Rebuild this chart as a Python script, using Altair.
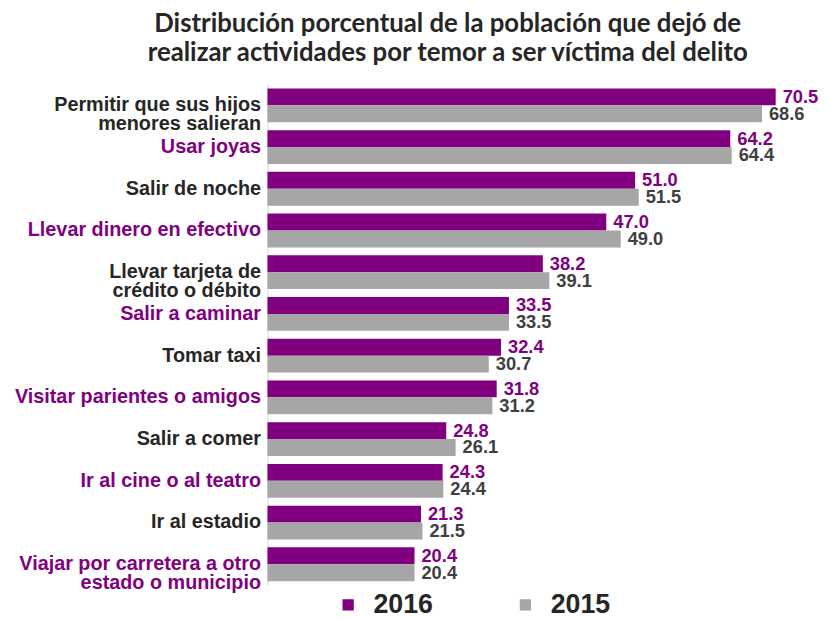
import json
import altair as alt
import pandas as pd

categories = [
    "Permitir que sus hijos|menores salieran",
    "Usar joyas",
    "Salir de noche",
    "Llevar dinero en efectivo",
    "Llevar tarjeta de|crédito o débito",
    "Salir a caminar",
    "Tomar taxi",
    "Visitar parientes o amigos",
    "Salir a comer",
    "Ir al cine o al teatro",
    "Ir al estadio",
    "Viajar por carretera a otro|estado o municipio",
]
values_2016 = [70.5, 64.2, 51.0, 47.0, 38.2, 33.5, 32.4, 31.8, 24.8, 24.3, 21.3, 20.4]
values_2015 = [68.6, 64.4, 51.5, 49.0, 39.1, 33.5, 30.7, 31.2, 26.1, 24.4, 21.5, 20.4]
years = ["2016", "2015"]
title_lines = [
    "Distribución porcentual de la población que dejó de",
    "realizar actividades por temor a ser víctima del delito",
]

rows = []
for c, a, b in zip(categories, values_2016, values_2015):
    rows.append({"cat": c, "year": "2016", "value": a})
    rows.append({"cat": c, "year": "2015", "value": b})
df = pd.DataFrame(rows)

purple_cats = categories[1::2]
purple_test = "indexof(" + json.dumps(purple_cats, ensure_ascii=False) + ", datum.value) >= 0"

PURPLE = "#800080"
GRAY = "#A6A6A6"
DARK = "#262626"
FONT = "Liberation Sans, Arial, sans-serif"

y_enc = alt.Y(
    "cat:N",
    sort=categories,
    scale=alt.Scale(paddingInner=0.19, paddingOuter=0.1),
    axis=alt.Axis(
        title=None,
        labelExpr="split(datum.label, '|')",
        labelFont=FONT,
        labelFontWeight="bold",
        labelFontSize=20,
        labelLineHeight=19,
        labelColor={"condition": {"test": purple_test, "value": PURPLE}, "value": DARK},
        ticks=False,
        domainColor="#d9d9d9",
        domainWidth=1,
        labelPadding=7,
        labelLimit=0,
        grid=False,
    ),
)
yoff = alt.YOffset("year:N", sort=years, scale=alt.Scale(paddingInner=0, paddingOuter=0))
x_enc = alt.X("value:Q", scale=alt.Scale(domain=[0, 75], nice=False), axis=None)

bars = alt.Chart(df).mark_bar().encode(
    y=y_enc,
    yOffset=yoff,
    x=x_enc,
    color=alt.Color(
        "year:N",
        sort=years,
        scale=alt.Scale(domain=years, range=[PURPLE, GRAY]),
        legend=alt.Legend(
            title=None,
            orient="none",
            legendX=68,
            legendY=512,
            direction="horizontal",
            symbolType="square",
            symbolSize=130,
            symbolStrokeWidth=0,
            labelFont=FONT,
            labelFontWeight="bold",
            labelFontSize=27,
            labelColor=DARK,
            labelOffset=12,
            columnPadding=79,
            padding=0,
        ),
    ),
)

texts = alt.Chart(df).mark_text(
    align="left", baseline="middle", dx=7, font=FONT, fontWeight="bold", fontSize=18.5
).encode(
    y=alt.Y("cat:N", sort=categories),
    yOffset=yoff,
    x=x_enc,
    text=alt.Text("value:Q", format=".1f"),
    color=alt.condition(alt.datum.year == "2016", alt.value(PURPLE), alt.value("#404040")),
)

chart = (
    alt.layer(bars, texts)
    .properties(
        width=546,
        height=506,
        autosize=alt.AutoSizeParams(type="none"),
        padding={"left": 262, "top": 74, "right": 14, "bottom": 31},
        title=alt.TitleParams(
            text=title_lines,
            font="Lato",
            fontSize=26,
            fontWeight="bold",
            color=DARK,
            anchor="middle",
            frame="group",
            dx=-91,
            offset=18,
            lineHeight=30,
        ),
        background="white",
    )
    .configure_view(stroke=None)
)

chart.save("out.html", embed_options={"renderer": "svg", "actions": False})
